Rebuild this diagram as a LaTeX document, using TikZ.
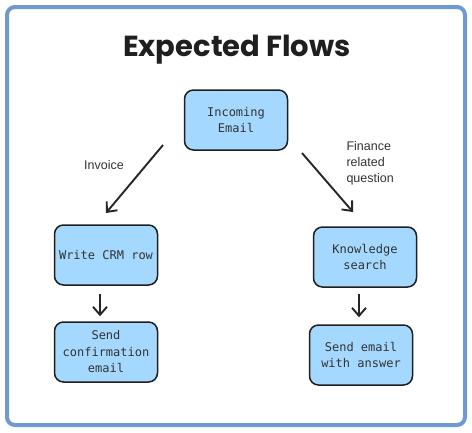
\documentclass[tikz,border=0pt]{standalone}
\usepackage{fontspec}
\setmainfont{Liberation Sans}
\setmonofont{DejaVu Sans Mono}
\newfontfamily\titlefont{Poppins}
\usetikzlibrary{arrows.meta}
\definecolor{framecol}{HTML}{7099D4}
\definecolor{boxcol}{HTML}{A5D8FF}
\tikzstyle{flowbox}=[draw=black!88, fill=boxcol, line width=1.5pt, rounded corners=9pt,
    minimum width=103pt, minimum height=60pt, align=center, text=black!80,
    font=\ttfamily\fontsize{12}{16.5}\selectfont]
\tikzstyle{flowarrow}=[-{Straight Barb[length=8pt, width=14pt]}, line width=1.9pt, black!85]
\tikzstyle{flowlabel}=[font=\fontsize{12.5}{16}\selectfont, text=black!80]

\begin{document}
\begin{tikzpicture}[x=1pt, y=-1pt]
% Frame
    \useasboundingbox (0,0) rectangle (472,432);
    \fill[white] (0,0) rectangle (472,432);
    \draw[framecol, line width=4pt, rounded corners=8pt] (7,7) rectangle (465,425);
% Title
    \node[font=\titlefont\bfseries\fontsize{29}{34}\selectfont, text=black!88] (title) at (237,50) {Expected Flows};
% Boxes
    \node[flowbox] (incoming) at (236,120) {Incoming\\Email};
    \node[flowbox] (crm) at (106,255) {Write CRM row};
    \node[flowbox] (knowledge) at (365,257) {Knowledge\\search};
    \node[flowbox] (confirm) at (106,352) {Send\\confirmation\\email};
    \node[flowbox] (answer) at (361,355) {Send email\\with answer};
% Arrows
    \coordinate (invoicestart) at (163,145);
    \coordinate (invoiceend) at (106,213);
    \coordinate (financestart) at (302,153);
    \coordinate (financeend) at (353,212);
    \draw[flowarrow] (invoicestart) -- (invoiceend);
    \draw[flowarrow] (financestart) -- (financeend);
    \draw[flowarrow, shorten <=8pt, shorten >=5pt] ([xshift=-6pt]crm.south) -- ([xshift=-6pt]confirm.north);
    \draw[flowarrow, shorten <=6pt, shorten >=7pt] ([xshift=-6pt]knowledge.south) -- ([xshift=-2pt]answer.north);
% Labels
    \node[flowlabel] (invoice) at (104,165) {Invoice};
    \node[flowlabel, align=left, anchor=north west] (finance) at (343,138) {Finance\\related\\question};
\end{tikzpicture}
\end{document}
